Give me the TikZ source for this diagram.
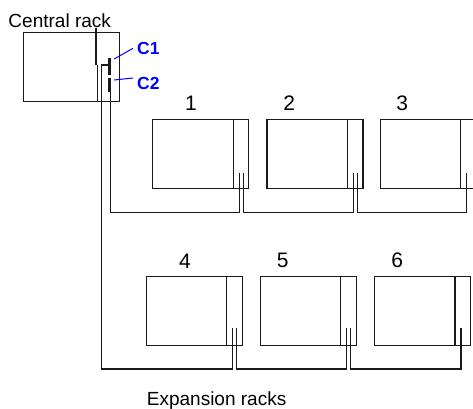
\documentclass[tikz,border=0pt]{standalone}
\usepackage{fontspec}
\setmainfont{Liberation Sans}
\usetikzlibrary{positioning}
\definecolor{tagblue}{HTML}{0000FF}
\definecolor{rackline}{HTML}{1A1A1A}

\begin{document}
\begin{tikzpicture}[
        x=1pt, y=-1pt,
        node distance=17pt,
        rackbox/.style={
            draw=rackline,
            line width=1.1pt,
            minimum width=96pt,
            minimum height=68.5pt,
            inner sep=0pt
        },
        centralbox/.style={
            draw=rackline,
            line width=1.1pt,
            minimum width=95.5pt,
            minimum height=69pt,
            inner sep=0pt
        },
        connbar/.style={
            fill=rackline,
            minimum width=2.4pt,
            inner sep=0pt
        },
        cable/.style={line width=1.1pt, rackline},
        leader/.style={line width=1pt, tagblue},
        tag/.style={font=\fontsize{17.5}{20}\selectfont\bfseries, text=tagblue, inner sep=0pt},
        racknum/.style={font=\fontsize{21}{24}\selectfont, inner sep=0pt},
        title/.style={font=\fontsize{19}{22}\selectfont, inner sep=0pt}
    ]
        \useasboundingbox (0,0) rectangle (473,408);
        \clip (0,0) rectangle (473,408);

        % central rack
        \node[centralbox, anchor=north west] (central) at (23.2,32) {};
        \node[title, anchor=base west] (centraltitle) at (8.3,27.3) {Central rack};
        \draw[cable] (96,28) -- (96,65) (97.7,65) -- (97.7,101);
        \node[connbar, minimum height=17pt] (c1) at (109.3,66.5) {};
        \node[connbar, minimum height=14pt] (c2) at (109.3,85) {};
        \node[tag, anchor=west] (c1tag) at (137,48.3) {C1};
        \node[tag, anchor=west] (c2tag) at (137,83.5) {C2};
        \draw[leader] ([xshift=3.5pt,yshift=7.5pt]c1.east) -- ([xshift=-4pt]c1tag.west);
        \draw[leader] ([xshift=3.3pt,yshift=5pt]c2.east) -- ([xshift=-4pt,yshift=5.5pt]c2tag.west);

        % expansion racks, upper row
        \node[rackbox, anchor=north west] (exp1) at (152.3,119.3) {};
        \node[rackbox, right=of exp1] (exp2) {};
        \node[rackbox, right=16pt of exp2] (exp3) {};
        \node[racknum, above=8.5pt of exp1.north west, xshift=38.7pt] (num1) {1};
        \node[racknum, above=8.5pt of exp2.north west, xshift=22.7pt] (num2) {2};
        \node[racknum, above=8.5pt of exp3.north west, xshift=22.7pt] (num3) {3};

        % expansion racks, lower row
        \node[rackbox, anchor=north west, minimum height=69.5pt] (exp4) at (145.7,275.7) {};
        \node[rackbox, minimum height=69.5pt, right=of exp4] (exp5) {};
        \node[rackbox, minimum height=69.5pt, right=of exp5] (exp6) {};
        \node[racknum, above=7.5pt of exp4.north west, xshift=39.3pt] (num4) {4};
        \node[racknum, above=7.5pt of exp5.north west, xshift=23pt] (num5) {5};
        \node[racknum, above=7.5pt of exp6.north west, xshift=23.3pt] (num6) {6};
        \node[title, anchor=base west] (exptitle) at (146.7,405) {Expansion racks};

        % interface modules
        \draw[cable] ([xshift=-16pt]exp1.north east) -- ([xshift=-16pt]exp1.south east);
        \draw[cable] ([xshift=-16pt]exp2.north east) -- ([xshift=-16pt]exp2.south east);
        \draw[cable] ([xshift=-16pt]exp3.north east) -- ([xshift=-16pt]exp3.south east);
        \draw[cable] ([xshift=-16pt]exp4.north east) -- ([xshift=-16pt]exp4.south east);
        \draw[cable] ([xshift=-16pt]exp5.north east) -- ([xshift=-16pt]exp5.south east);
        \draw[cable] ([xshift=-16pt]exp6.north east) -- ([xshift=-16pt]exp6.south east);

        % cable ends
        \coordinate (exp1in) at ([xshift=-10pt,yshift=16pt]exp1.south east);
        \coordinate (exp1out) at ([xshift=-6pt,yshift=16pt]exp1.south east);
        \coordinate (exp2in) at ([xshift=-10pt,yshift=16pt]exp2.south east);
        \coordinate (exp2out) at ([xshift=-6pt,yshift=16pt]exp2.south east);
        \coordinate (exp3in) at ([xshift=-10pt,yshift=16pt]exp3.south east);
        \coordinate (exp4in) at ([xshift=-10pt,yshift=18pt]exp4.south east);
        \coordinate (exp4out) at ([xshift=-6pt,yshift=18pt]exp4.south east);
        \coordinate (exp5in) at ([xshift=-10pt,yshift=18pt]exp5.south east);
        \coordinate (exp5out) at ([xshift=-6pt,yshift=18pt]exp5.south east);
        \coordinate (exp6in) at ([xshift=-10pt,yshift=18pt]exp6.south east);
        \coordinate (busone) at (0,212.5);
        \coordinate (bustwo) at (0,369);
        \coordinate (c1drop) at (101.7,65);

        % C2 chain, upper row
        \draw[cable] (c2.north east) -- (c2.north east |- busone) -| (exp1in);
        \draw[cable] (exp1out) -- (exp1out |- busone) -| (exp2in);
        \draw[cable] (exp2out) -- (exp2out |- busone) -| (exp3in);

        % C1 chain, lower row
        \draw[cable] (c1drop -| c1.center) -- (c1drop) -- (c1drop |- bustwo) -| (exp4in);
        \draw[cable] (exp4out) -- (exp4out |- bustwo) -| (exp5in);
        \draw[cable] (exp5out) -- (exp5out |- bustwo) -| (exp6in);
    \end{tikzpicture}
\end{document}
